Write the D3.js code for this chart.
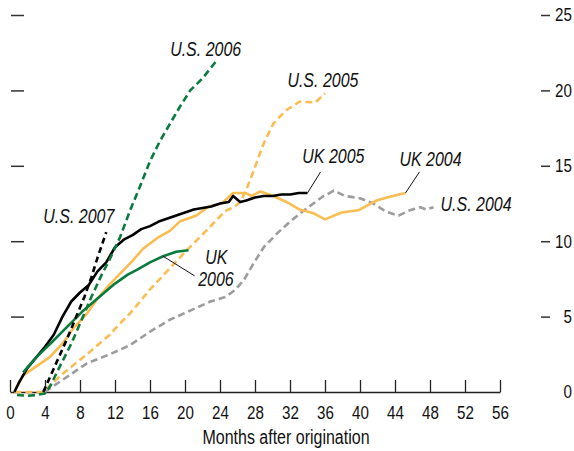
<!DOCTYPE html>
<html>
<head>
<meta charset="utf-8">
<script src="https://cdn.jsdelivr.net/npm/d3@7"></script>
<style>
  html, body { margin: 0; padding: 0; background: #fff; }
  svg { display: block; }
  text { font-family: "Liberation Sans", Arial, sans-serif; fill: #111; }
</style>
</head>
<body>
<svg id="chart" width="574" height="451"></svg>
<script>
// ---- data: [month, percent] ----
const ukSeries2005 = [[0.5,0],[1,0.6],[2,1.6],[3,2.3],[4,3.0],[5,3.8],[6,5.0],[7,6.0],[8,6.6],[9,7.1],[10,8.0],[11,8.6],[12,9.6],[13,10.1],[14,10.4],[15,10.8],[16,11.0],[17,11.3],[18,11.5],[19,11.7],[20,11.9],[21,12.1],[22,12.2],[23,12.3],[24,12.5],[25,12.6],[25.5,13.0],[26.3,12.6],[27,12.7],[28,12.9],[29,13.0],[30,13.0],[31,13.1],[32,13.1],[33,13.2],[34,13.2]];
const ukSeries2004 = [[0.5,0],[1.5,1.1],[3,1.7],[4.5,2.3],[6,3.2],[7.2,4.2],[8.8,5.2],[10,6.2],[11.5,7.2],[13,8.1],[14,8.7],[15.2,9.5],[16.8,10.2],[18.3,10.7],[19.4,11.3],[21.3,11.7],[22.7,12.3],[24.2,12.5],[25.5,13.2],[26.9,13.2],[27.6,13.0],[28.6,13.3],[30.1,13.0],[31.6,12.6],[33.1,12.1],[34.7,11.85],[36,11.45],[37.9,11.9],[39.8,12.05],[41.9,12.7],[43.4,12.95],[45.2,13.2]];
const ukSeries2006 = [[1.5,1.3],[3,2.3],[4.6,3.2],[6.5,4.3],[8.2,5.3],[10,6.2],[11.8,7.1],[13.5,7.8],[14.5,8.1],[16,8.6],[17.5,9.0],[19,9.3],[20.4,9.4]];
const usSeries2007 = [[3.8,0],[4.5,0.9],[5.5,2.2],[6.5,3.5],[7.5,4.9],[8.5,6.3],[9.3,7.6],[10,8.9],[11,10.6]];
const usSeries2006 = [[0.8,-0.2],[2,-0.25],[3,-0.2],[4,-0.1],[4.6,0.4],[5.7,1.7],[7,3.2],[8.2,4.8],[9.3,6.3],[10.5,7.8],[11.4,8.8],[12.6,10.3],[13.7,12.0],[14.9,13.7],[16,15.3],[17.1,16.6],[18.3,17.8],[19.4,18.9],[20.6,20.0],[22,20.8],[23.5,21.9]];
const usSeries2005 = [[0.5,0],[2,0],[3.8,0],[4.6,0.45],[6,1.2],[7.5,1.9],[8.8,2.5],[10,3.1],[11.4,3.8],[12.5,4.5],[13.7,5.2],[15,6.1],[16,6.8],[18.1,8.1],[20.2,9.4],[22.1,10.5],[23.6,11.4],[24.6,12.0],[25.7,12.3],[26.3,12.6],[27,13.4],[27.8,14.6],[29,16.5],[30.1,17.8],[31.6,18.7],[33.1,19.25],[34.9,19.2],[36,19.8]];
const usSeries2004 = [[4,0],[4.6,0.25],[6,0.8],[8.8,1.9],[11.4,2.5],[13.7,3.1],[16,4.0],[18.3,4.8],[20.6,5.4],[22.9,6.0],[24.6,6.3],[25.7,6.75],[26.7,7.4],[27.8,8.5],[29,9.6],[30.5,10.5],[32,11.3],[33.5,12.0],[35.6,12.9],[37,13.35],[38.3,13.0],[40,12.85],[41.5,12.5],[43,11.95],[44.4,11.7],[45.7,12.05],[46.9,12.25],[47.6,12.1],[48.4,12.25]];

const xTicks = [0,4,8,12,16,20,24,28,32,36,40,44,48,52,56];
const yTicks = [0,5,10,15,20,25];
const xTitle = "Months after origination";

const labels = [
  {text:"U.S. 2006", m:18.3, v:22.3},
  {text:"U.S. 2005", m:31.7, v:20.2},
  {text:"UK 2005", m:33.4, v:15.2},
  {text:"UK 2004", m:44.5, v:15.0},
  {text:"U.S. 2004", m:49.2, v:12.0},
  {text:"U.S. 2007", m:3.8, v:11.2},
  {text:"UK", m:22.3, v:8.5},
  {text:"2006", m:21.5, v:7.0}
];
const leaders = [
  {from:[34,13.2], to:[35.5,14.6]},
  {from:[45.2,13.2], to:[46.8,14.6]},
  {from:[17.5,9.0], to:[21.1,7.7]}
];

// ---- drawing ----
const svg = d3.select("#chart");
const x = d3.scaleLinear().domain([0,56]).range([10,500]);
const y = d3.scaleLinear().domain([0,25]).range([392,15]);
const SX = 0.82;

const GREEN = "#0b7a3d", YELLOW = "#f9bd52", GRAY = "#9c9c9c", BLACK = "#000";

// x axis
const xAxis = svg.append("g").attr("transform","translate(0,392)")
  .call(d3.axisBottom(x).tickValues(xTicks).tickSizeInner(-12).tickSizeOuter(0).tickPadding(14));
xAxis.select(".domain").attr("stroke","#222").attr("stroke-width",1.3);
xAxis.selectAll(".tick line").attr("stroke","#222").attr("stroke-width",1.3);
xAxis.selectAll("text").attr("font-size",18.5).attr("font-family",null)
  .attr("transform",`scale(${SX},1)`).style("fill","#111");

// left ticks (no labels)
const lAxis = svg.append("g").attr("transform","translate(24,0)")
  .call(d3.axisLeft(y).tickValues(yTicks.filter(d=>d>0)).tickSize(13).tickFormat(""));
lAxis.select(".domain").remove();
lAxis.selectAll(".tick line").attr("stroke","#333").attr("stroke-width",1.5);

// right axis
const rAxis = svg.append("g").attr("transform","translate(541,0)")
  .call(d3.axisRight(y).tickValues(yTicks).tickSize(9).tickPadding(22));
rAxis.select(".domain").remove();
rAxis.selectAll(".tick line").attr("stroke","#333").attr("stroke-width",1.5).filter(d=>d===0).remove();
rAxis.selectAll("text").attr("font-size",18.5).attr("font-family",null).attr("text-anchor","end")
  .attr("x",31/SX).attr("transform",`scale(${SX},1)`).style("fill","#111");

function narrowText(px, py, str, size, italic) {
  return svg.append("text")
    .attr("transform",`translate(${px},${py}) scale(${SX},1)`)
    .attr("font-size",size).attr("font-style",italic ? "italic" : null)
    .text(str);
}

narrowText(286, 444, xTitle, 19.5, false).attr("text-anchor","middle");

const line = d3.line().x(d=>x(d[0])).y(d=>y(d[1]));
const series = [
  {data:usSeries2004, color:GRAY, dash:"7,4"},
  {data:usSeries2005, color:YELLOW, dash:"7,4"},
  {data:ukSeries2004, color:YELLOW, dash:null},
  {data:ukSeries2005, color:BLACK, dash:null},
  {data:ukSeries2006, color:GREEN, dash:null},
  {data:usSeries2007, color:BLACK, dash:"6,4"},
  {data:usSeries2006, color:GREEN, dash:"7,4"}
];
series.forEach(s=>{
  svg.append("path").datum(s.data).attr("d",line)
    .attr("fill","none").attr("stroke",s.color).attr("stroke-width",2.6)
    .attr("stroke-linejoin","round")
    .attr("stroke-dasharray",s.dash);
});

leaders.forEach(l=>{
  svg.append("line").attr("x1",x(l.from[0])).attr("y1",y(l.from[1]))
    .attr("x2",x(l.to[0])).attr("y2",y(l.to[1])).attr("stroke","#111").attr("stroke-width",1);
});

labels.forEach(l=>{
  narrowText(x(l.m), y(l.v), l.text, 19.5, true);
});
</script>
</body>
</html>
